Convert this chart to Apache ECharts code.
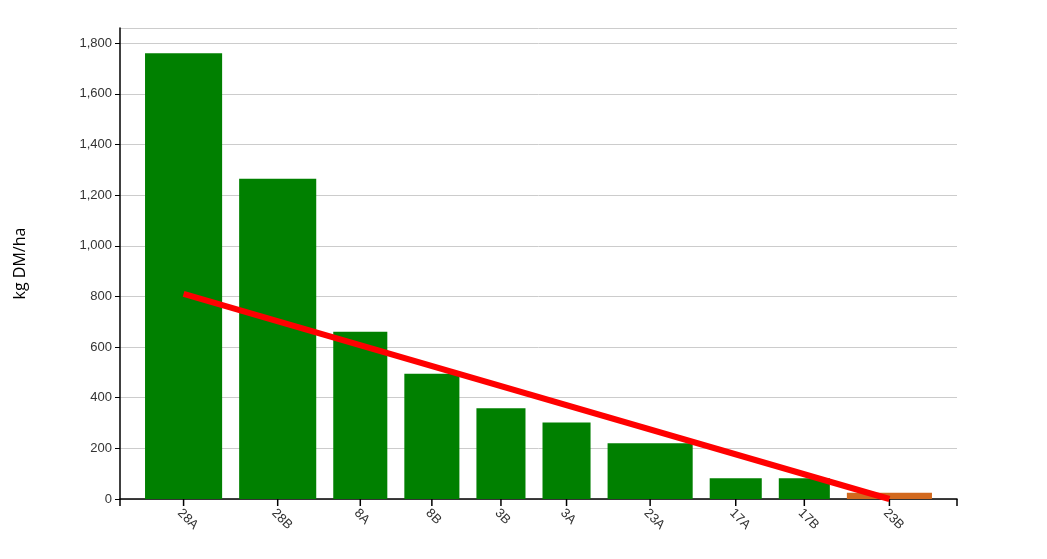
<!DOCTYPE html>
<html><head><meta charset="utf-8">
<script src="https://cdn.jsdelivr.net/npm/echarts@6/dist/echarts.min.js"></script>
<style>html,body{margin:0;padding:0;background:#fff}#c{width:1047px;height:559px}</style>
</head><body><div id="c"></div>
<script>
const categories = ['28A','28B','8A','8B','3B','3A','23A','17A','17B','23B'];
const values = [1760,1265,660,495,358,302,220,82,82,25];
const widths = [7.7,7.7,5.4,5.5,4.9,4.8,8.5,5.2,5.1,8.5];
const colors = ['#008000','#008000','#008000','#008000','#008000','#008000','#008000','#008000','#008000','#d2691e'];
const trendValues = [810, 0];
const pad = 2.5, gap = 1.7;
let x = pad; const items = [];
categories.forEach((c,i)=>{ items.push([x, widths[i], values[i], c, colors[i]]); x += widths[i] + (i<categories.length-1?gap:0); });
const xMax = x + pad;
const centers = items.map(d=>d[0]+d[1]/2);
const chart = echarts.init(document.getElementById('c'));
chart.setOption({
  animation:false,
  grid:{left:120,right:90,top:28,bottom:60},
  xAxis:{type:'value',min:0,max:xMax,axisLine:{lineStyle:{color:'#000',width:1.5}},axisTick:{show:false},axisLabel:{show:false},splitLine:{show:false}},
  yAxis:{type:'value',min:0,max:1860,interval:200,name:'kg DM/ha',nameLocation:'middle',nameGap:92,nameTextStyle:{fontSize:16,color:'#000',fontFamily:'Open Sans'},
    axisLine:{show:true,lineStyle:{color:'#000',width:1.5}},axisTick:{show:true,lineStyle:{color:'#000'}},
    axisLabel:{showMaxLabel:false,color:'#333',fontSize:13,fontFamily:'Arial',formatter:v=>v.toLocaleString('en-US')},
    splitLine:{lineStyle:{color:'#ccc'}}},
  series:[
    {type:'custom',clip:false,data:items,encode:{x:0,y:2},
     renderItem:(params,api)=>{
       const s=api.value(0),w=api.value(1),v=api.value(2),i=params.dataIndex;
       const p0=api.coord([s,0]),p1=api.coord([s+w,v]);
       const cx=api.coord([s+w/2,0]);
       const children=[
         {type:'rect',shape:{x:p0[0],y:p1[1],width:p1[0]-p0[0],height:p0[1]-p1[1]},style:{fill:items[i][4]}},
         {type:'line',shape:{x1:cx[0],y1:cx[1],x2:cx[0],y2:cx[1]+7},style:{stroke:'#000',lineWidth:1.5}},
         {type:'text',x:cx[0]-4,y:cx[1]+12,rotation:-Math.PI/4,style:{text:items[i][3],fill:'#333',font:'13px Arial',align:'left',verticalAlign:'middle'}}
       ];
       if(i===0){const e=api.coord([0,0]);children.push({type:'line',shape:{x1:e[0],y1:e[1],x2:e[0],y2:e[1]+7},style:{stroke:'#000',lineWidth:1.5}});}
       if(i===items.length-1){const e=api.coord([xMax,0]);children.push({type:'line',shape:{x1:e[0],y1:e[1],x2:e[0],y2:e[1]+7},style:{stroke:'#000',lineWidth:1.5}});}
       return {type:'group',children};
     }},
    {type:'line',data:[[centers[0],trendValues[0]],[centers[centers.length-1],trendValues[1]]],symbol:'none',lineStyle:{color:'#ff0000',width:6},z:5}
  ]
});
</script></body></html>
